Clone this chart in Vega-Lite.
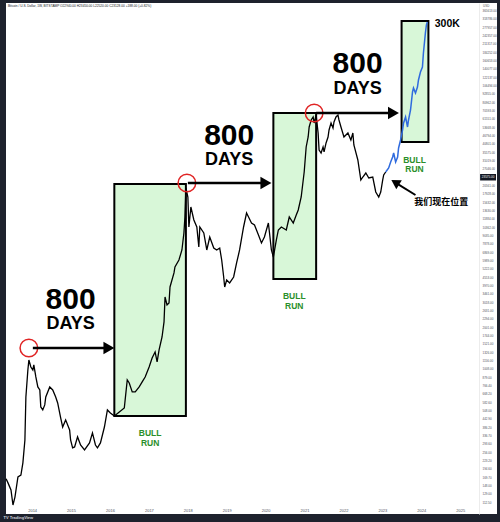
{
"$schema": "https://vega.github.io/schema/vega-lite/v6.json",
"width": 500, "height": 522,
"autosize": {"type": "fit", "contains": "padding"},
"padding": {"top": 3, "left": 3, "right": 3, "bottom": 2},
"background": "#1e222d",
"config": {"view": {"fill": "#ffffff", "stroke": null}},
"title": {"text": "TV TradingView", "orient": "bottom", "anchor": "start", "fontSize": 4, "color": "#d1d4dc", "font": "Liberation Sans", "fontWeight": "bold", "offset": 2},
"datasets": {
"boxes": [
{"t": 2016.112, "t2": 2017.951, "p": 463, "p2": 21018},
{"t": 2020.199, "t2": 2021.298, "p": 4406, "p2": 67579},
{"t": 2023.494, "t2": 2024.183, "p": 41950, "p2": 306800}
],
"price": [
{"t":2013.33,"p":165},{"t":2013.379,"p":154},{"t":2013.456,"p":137},{"t":2013.507,"p":107},{"t":2013.558,"p":122},
{"t":2013.635,"p":170},{"t":2013.711,"p":175},{"t":2013.762,"p":214},{"t":2013.814,"p":312},{"t":2013.839,"p":633},
{"t":2013.89,"p":986},{"t":2013.916,"p":1162},{"t":2013.967,"p":1036},{"t":2014.018,"p":986},{"t":2014.043,"p":1071},
{"t":2014.095,"p":879},{"t":2014.146,"p":746},{"t":2014.197,"p":710},{"t":2014.222,"p":537},{"t":2014.273,"p":511},
{"t":2014.324,"p":555},{"t":2014.35,"p":633},{"t":2014.452,"p":746},{"t":2014.529,"p":710},{"t":2014.605,"p":633},
{"t":2014.656,"p":573},{"t":2014.733,"p":448},{"t":2014.784,"p":386},{"t":2014.861,"p":434},{"t":2014.963,"p":368},
{"t":2014.988,"p":312},{"t":2015.04,"p":274},{"t":2015.091,"p":278},{"t":2015.167,"p":328},{"t":2015.244,"p":287},
{"t":2015.346,"p":265},{"t":2015.474,"p":297},{"t":2015.55,"p":350},{"t":2015.627,"p":287},{"t":2015.678,"p":274},
{"t":2015.755,"p":297},{"t":2015.857,"p":386},{"t":2015.934,"p":511},{"t":2016.01,"p":486},{"t":2016.112,"p":463},
{"t":2016.24,"p":494},{"t":2016.368,"p":528},{"t":2016.444,"p":837},{"t":2016.495,"p":796},{"t":2016.572,"p":687},
{"t":2016.649,"p":687},{"t":2016.751,"p":746},{"t":2016.828,"p":810},{"t":2016.904,"p":879},{"t":2017.006,"p":1036},
{"t":2017.083,"p":1201},{"t":2017.16,"p":1326},{"t":2017.211,"p":1125},{"t":2017.262,"p":1371},{"t":2017.338,"p":1697},
{"t":2017.389,"p":2173},{"t":2017.415,"p":3277},{"t":2017.466,"p":2873},{"t":2017.517,"p":2970},{"t":2017.543,"p":3863},
{"t":2017.645,"p":4863},{"t":2017.67,"p":5367},{"t":2017.772,"p":6022},{"t":2017.849,"p":7098},{"t":2017.9,"p":9389},
{"t":2017.926,"p":12213},{"t":2017.951,"p":19679},{"t":2018.002,"p":16971},{"t":2018.028,"p":10361},{"t":2018.079,"p":14399},
{"t":2018.156,"p":11622},{"t":2018.232,"p":10361},{"t":2018.283,"p":7456},{"t":2018.309,"p":10361},{"t":2018.411,"p":9389},
{"t":2018.488,"p":7098},{"t":2018.564,"p":8790},{"t":2018.667,"p":7334},{"t":2018.743,"p":7098},{"t":2018.82,"p":7334},
{"t":2018.871,"p":6022},{"t":2018.922,"p":4552},{"t":2018.948,"p":3863},{"t":2018.999,"p":4335},{"t":2019.075,"p":4127},
{"t":2019.178,"p":4552},{"t":2019.254,"p":5733},{"t":2019.331,"p":7098},{"t":2019.433,"p":10361},{"t":2019.51,"p":13041},
{"t":2019.561,"p":12213},{"t":2019.637,"p":11066},{"t":2019.714,"p":10708},{"t":2019.816,"p":9085},{"t":2019.893,"p":7964},
{"t":2019.969,"p":8790},{"t":2020.071,"p":11066},{"t":2020.097,"p":9546},{"t":2020.148,"p":7098},{"t":2020.199,"p":6326},
{"t":2020.276,"p":8368},{"t":2020.327,"p":9863},{"t":2020.404,"p":10361},{"t":2020.531,"p":9863},{"t":2020.608,"p":12213},
{"t":2020.71,"p":11066},{"t":2020.787,"p":12614},{"t":2020.838,"p":13706},{"t":2020.914,"p":16971},{"t":2020.991,"p":25603},
{"t":2021.042,"p":38630},{"t":2021.093,"p":45537},{"t":2021.119,"p":53666},{"t":2021.17,"p":60219},{"t":2021.221,"p":63268},
{"t":2021.247,"p":57305},{"t":2021.298,"p":65373},{"t":2021.349,"p":48627},{"t":2021.374,"p":36760},{"t":2021.425,"p":34990},
{"t":2021.476,"p":38630},{"t":2021.502,"p":35580},{"t":2021.553,"p":41267},{"t":2021.604,"p":45537},{"t":2021.63,"p":51087},
{"t":2021.681,"p":57305},{"t":2021.732,"p":52799},{"t":2021.757,"p":58269},{"t":2021.808,"p":63268},{"t":2021.859,"p":65373},
{"t":2021.885,"p":60219},{"t":2021.936,"p":53666},{"t":2022.013,"p":45537},{"t":2022.115,"p":48627},{"t":2022.191,"p":43353},
{"t":2022.242,"p":48627},{"t":2022.268,"p":39909},{"t":2022.37,"p":31189},{"t":2022.447,"p":22448},{"t":2022.498,"p":23575},
{"t":2022.575,"p":25183},{"t":2022.651,"p":23198},{"t":2022.753,"p":23575},{"t":2022.83,"p":18425},{"t":2022.907,"p":16971},
{"t":2022.958,"p":18425},{"t":2023.009,"p":22448},{"t":2023.034,"p":24370},{"t":2023.085,"p":25603}
],
"proj": [
{"t":2023.085,"p":25603},{"t":2023.162,"p":27354},{"t":2023.213,"p":30168},{"t":2023.264,"p":32766},{"t":2023.29,"p":34990},
{"t":2023.341,"p":30168},{"t":2023.392,"p":32766},{"t":2023.417,"p":38000},{"t":2023.468,"p":43353},{"t":2023.519,"p":51087},
{"t":2023.545,"p":57305},{"t":2023.596,"p":63268},{"t":2023.647,"p":53666},{"t":2023.672,"p":60219},{"t":2023.724,"p":70983},
{"t":2023.775,"p":95462},{"t":2023.8,"p":101920},{"t":2023.851,"p":93890},{"t":2023.902,"p":103610},{"t":2023.928,"p":116220},
{"t":2023.979,"p":132640},{"t":2024.03,"p":143960},{"t":2024.055,"p":181250},{"t":2024.106,"p":251830},{"t":2024.132,"p":287230},
{"t":2024.157,"p":301780}
],
"circles": [
{"t": 2013.916, "p": 1416}, {"t": 2017.977, "p": 21366}, {"t": 2021.247, "p": 67579}
],
"arrows": [
{"t": 2014.018, "t2": 2015.908, "p": 1416, "p2": 1416},
{"t": 2018.002, "t2": 2019.944, "p": 21366, "p2": 21366},
{"t": 2021.298, "t2": 2023.213, "p": 67579, "p2": 67579}
],
"heads": [
{"t": 2015.972, "p": 1416}, {"t": 2020.008, "p": 21366}, {"t": 2023.285, "p": 67579}
],
"diag": [{"t": 2023.851, "t2": 2023.367, "p": 17540, "p2": 21226}],
"diaghead": [{"t": 2023.33, "p": 21578}],
"big": [
{"t": 2014.988, "p": 3103, "text": "800"},
{"t": 2019.063, "p": 46270, "text": "800"},
{"t": 2022.363, "p": 150490, "text": "800"}
],
"days": [
{"t": 2014.988, "p": 2085, "text": "DAYS"},
{"t": 2019.063, "p": 30940, "text": "DAYS"},
{"t": 2022.363, "p": 101070, "text": "DAYS"}
],
"bull": [
{"t": 2017.032, "p": 348, "text": "BULL"}, {"t": 2017.032, "p": 295, "text": "RUN"},
{"t": 2020.736, "p": 3304, "text": "BULL"}, {"t": 2020.736, "p": 2803, "text": "RUN"},
{"t": 2023.826, "p": 31440, "text": "BULL"}, {"t": 2023.826, "p": 26677, "text": "RUN"}
],
"target": [{"t": 2024.669, "p": 293400, "text": "300K"}],
"here": [{"t": 2024.516, "p": 15631, "text": "我们现在位置"}],
"header": [{"t": 2013.379, "p": 392600, "text": "Bitcoin / U.S. Dollar, 1W, BITSTAMP  O22940.00 H23450.00 L22520.00 C23128.00 +188.00 (+0.82%)"}],
"usd": [{"t": 2025.589, "p": 392600, "text": "USD"}],
"last": [{"t": 2025.512, "t2": 2025.921, "p": 22263, "p2": 24774, "pm": 23575, "tm": 2025.716, "text": "23575.00"}]
},
"layer": [
{
"data": {"name": "boxes"},
"mark": {"type": "rect", "fill": "#d8f7d8", "stroke": "#000000", "strokeWidth": 2},
"encoding": {
"x": {"field": "t", "type": "quantitative",
"scale": {"domain": [2013.328, 2025.946], "nice": false, "zero": false},
"axis": {"values": [2014,2015,2016,2017,2018,2019,2020,2021,2022,2023,2024,2025], "format": "d", "labelFontSize": 4, "labelColor": "#50535e", "labelFont": "Liberation Sans", "domain": false, "ticks": false, "grid": false, "title": null, "offset": -8, "labelPadding": 2, "labelOverlap": false, "labelFlush": false}},
"x2": {"field": "t2"},
"y": {"field": "p", "type": "quantitative",
"scale": {"type": "log", "domain": [92.3, 412500], "nice": false, "zero": false},
"axis": {"orient": "right", "values": [112.5,129,148,169.7,194.6,223.2,256,293.6,336.7,386.2,442.9,508,582.6,668.2,766.4,879,1008,1156,1326,1521,1744,2001,2294,2631,3018,3461,3970,4553,5222,5989,6869,7878,9035,10362,11884,13630,15632,17928,20561,27046,31019,35575,40801,46794,53668,61551,70593,80962,92855,106494,122137,140077,160653,184252,211317,242357,277957,318786,365613], "format": ".2f", "labelFontSize": 3, "labelColor": "#50535e", "labelFont": "Liberation Sans", "domain": true, "domainColor": "#ececec", "ticks": false, "grid": false, "title": null, "offset": -18, "labelPadding": 3, "labelOverlap": false, "labelBound": false, "labelFlush": false}},
"y2": {"field": "p2"}
}
},
{"data": {"name": "price"}, "mark": {"type": "line", "color": "#000000", "strokeWidth": 1.3},
"encoding": {"x": {"field": "t", "type": "quantitative"}, "y": {"field": "p", "type": "quantitative"}}},
{"data": {"name": "proj"}, "mark": {"type": "line", "color": "#2f6bde", "strokeWidth": 1.5},
"encoding": {"x": {"field": "t", "type": "quantitative"}, "y": {"field": "p", "type": "quantitative"}}},
{"data": {"name": "circles"}, "mark": {"type": "point", "shape": "circle", "filled": false, "stroke": "#e02424", "strokeWidth": 1.5, "size": 310, "opacity": 1},
"encoding": {"x": {"field": "t", "type": "quantitative"}, "y": {"field": "p", "type": "quantitative"}}},
{"data": {"name": "arrows"}, "mark": {"type": "rule", "color": "#000000", "strokeWidth": 2.3},
"encoding": {"x": {"field": "t", "type": "quantitative"}, "x2": {"field": "t2"}, "y": {"field": "p", "type": "quantitative"}, "y2": {"field": "p2"}}},
{"data": {"name": "heads"}, "mark": {"type": "point", "shape": "triangle-right", "filled": true, "color": "#000000", "size": 160, "opacity": 1},
"encoding": {"x": {"field": "t", "type": "quantitative"}, "y": {"field": "p", "type": "quantitative"}}},
{"data": {"name": "diag"}, "mark": {"type": "rule", "color": "#000000", "strokeWidth": 2},
"encoding": {"x": {"field": "t", "type": "quantitative"}, "x2": {"field": "t2"}, "y": {"field": "p", "type": "quantitative"}, "y2": {"field": "p2"}}},
{"data": {"name": "diaghead"}, "mark": {"type": "point", "shape": "triangle-right", "filled": true, "color": "#000000", "size": 110, "angle": 211.7, "opacity": 1},
"encoding": {"x": {"field": "t", "type": "quantitative"}, "y": {"field": "p", "type": "quantitative"}}},
{"data": {"name": "big"}, "mark": {"type": "text", "font": "Liberation Sans", "fontWeight": "bold", "fontSize": 30, "color": "#000000", "align": "center", "baseline": "middle"},
"encoding": {"x": {"field": "t", "type": "quantitative"}, "y": {"field": "p", "type": "quantitative"}, "text": {"field": "text"}}},
{"data": {"name": "days"}, "mark": {"type": "text", "font": "Liberation Sans", "fontWeight": "bold", "fontSize": 18, "color": "#000000", "align": "center", "baseline": "middle"},
"encoding": {"x": {"field": "t", "type": "quantitative"}, "y": {"field": "p", "type": "quantitative"}, "text": {"field": "text"}}},
{"data": {"name": "bull"}, "mark": {"type": "text", "font": "Liberation Sans", "fontWeight": "bold", "fontSize": 8.5, "color": "#2a8f2a", "align": "center", "baseline": "middle"},
"encoding": {"x": {"field": "t", "type": "quantitative"}, "y": {"field": "p", "type": "quantitative"}, "text": {"field": "text"}}},
{"data": {"name": "target"}, "mark": {"type": "text", "font": "Liberation Sans", "fontWeight": "bold", "fontSize": 10.5, "color": "#000000", "align": "center", "baseline": "middle"},
"encoding": {"x": {"field": "t", "type": "quantitative"}, "y": {"field": "p", "type": "quantitative"}, "text": {"field": "text"}}},
{"data": {"name": "here"}, "mark": {"type": "text", "font": "Noto Sans CJK SC", "fontWeight": "bold", "fontSize": 9, "color": "#000000", "align": "center", "baseline": "middle"},
"encoding": {"x": {"field": "t", "type": "quantitative"}, "y": {"field": "p", "type": "quantitative"}, "text": {"field": "text"}}},
{"data": {"name": "header"}, "mark": {"type": "text", "font": "Liberation Sans", "fontSize": 3.2, "color": "#131722", "align": "left", "baseline": "middle"},
"encoding": {"x": {"field": "t", "type": "quantitative"}, "y": {"field": "p", "type": "quantitative"}, "text": {"field": "text"}}},
{"data": {"name": "usd"}, "mark": {"type": "text", "font": "Liberation Sans", "fontSize": 3, "color": "#50535e", "align": "left", "baseline": "middle"},
"encoding": {"x": {"field": "t", "type": "quantitative"}, "y": {"field": "p", "type": "quantitative"}, "text": {"field": "text"}}},
{"data": {"name": "last"}, "mark": {"type": "rect", "fill": "#131722"},
"encoding": {"x": {"field": "t", "type": "quantitative"}, "x2": {"field": "t2"}, "y": {"field": "p", "type": "quantitative"}, "y2": {"field": "p2"}}},
{"data": {"name": "last"}, "mark": {"type": "text", "font": "Liberation Sans", "fontSize": 3, "color": "#ffffff", "align": "center", "baseline": "middle"},
"encoding": {"x": {"field": "tm", "type": "quantitative"}, "y": {"field": "pm", "type": "quantitative"}, "text": {"field": "text"}}}
]
}
